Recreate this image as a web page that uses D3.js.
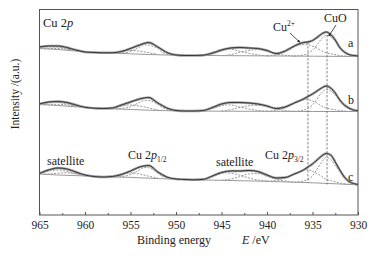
<!DOCTYPE html>
<html><head><meta charset="utf-8">
<script src="https://cdn.jsdelivr.net/npm/d3@7"></script>
<style>
body{margin:0;background:#fff}
text{font-family:"Liberation Serif","Times New Roman",serif;fill:#222}
</style>
</head><body>
<svg id="chart" width="376" height="256"></svg>
<script>
// ---- data (binding energy in eV, intensity in arbitrary units) ----
const energies = [965,964,963,962,961,960,959,958,957,956,955,954,953,952,951,950,949,948,947,946,945,944,943,942,941,940,939,938,937,936,
                  935.5,935,934.5,934,933.5,933,932.5,932,931.5,931,930.5,930];
const envA = [168,169,169,167.5,165,163,162.5,162.2,162.2,163.5,166.5,170,172.5,168,162.5,160,159.5,159.5,159.8,162,165,167,167.5,167,166.5,164.5,161.5,164,169,172.5,
              173,174.5,177.5,181,183,180.5,175,167.5,163,160.5,159.5,159];
const envB = [111,113,113.5,112.5,110,107.7,106.8,106.5,107,110,113,116,117.5,112,107,104.5,104,104,104.5,107.5,111,112.5,112.5,112,111,109,106.5,108,112,116,
              118.5,121,124,127,129,127,122,115,110,107,105,104.2];
const envC = [41.5,45,47,46,43,40,38.5,38,38.5,40.5,44,48,49.5,43,38,36,35.5,35.2,35.7,39,42.5,44,44,44.5,43.5,40,37,37.5,41,45,
              48,51,55,59,61.5,60,53,45,38,33.5,31.5,30.5];

const baseE = [965,963,961,959,957,955,953,951,949,945,940,935,930];
const baseA = [166.5,165.5,164,162.7,162,161.2,160.5,160,159.7,159.4,159.1,158.8,158.5];
const baseB = [110.5,109.5,108.2,107,106.2,105.5,104.8,104.3,104,103.8,103.7,103.5,103.5];
const baseC = [41,40,39.4,38.7,38.1,37.6,36.8,36.1,35.4,34.7,33.7,32.2,30.2];

// fitted components: heights above background
const cuoE = [937,936,935.5,935,934.5,934,933.5,933,932.5,932,931.5,931,930.5,930];
const cuoA = [0,1.2,3,6,11.5,17.5,21,19.5,15,8,4,2,0.8,0];
const cuoB = [0,1.3,3.2,6.5,12.5,18.5,22,20.5,16,10.5,5.5,2.5,0.8,0];
const cuoC = [0,1.5,3.5,7,14,21,26,24,18,12.5,6,2.5,1,0];

const cu2E = [940,939,938.5,938,937.5,937,936.5,936,935.5,935,934.5,934,933.5,933,932,931];
const cu2A = [0,1,2.5,4,6.5,9,11,11.5,11.5,10,8,5.5,3.3,2.5,1,0];
const cu2B = [0,1,2.5,4,6,8,10,11.5,11.8,10.5,8.5,5.5,3.5,2.5,1,0];
const cu2C = [0,1,2.5,4,6,8.5,10.5,12,13,11.5,9.5,7,4,3,1,0];

const satAE = [947.5,947,946,945,944.5,944,943,942,941,940];
const satAA = [0,0.3,1.5,4.5,6,6.5,4.5,2.5,1,0];
const satAB = [0,0.5,2.5,5.5,6.3,6.3,4.3,2.3,0.8,0];
const satAC = [0,0.5,3,7,7.5,7.3,5.5,3,1.2,0.3];

const satBE = [945,944,943,942,941,940,939,938,937];
const satBA = [0,1,3.5,5.3,6.3,5,2,0.8,0];
const satBB = [0,1.5,3.8,5.5,6,5,2.5,0.8,0];
const satBC = [0,1.5,4,7,7.5,5,2.5,0.8,0];

const p12E = [957,956,955,954.5,954,953.5,953,952.5,952,951.5,951,950.5];
const p12A = [0,0.5,2.3,4.5,7,9.5,9.5,8,6.5,2.5,1,0];
const p12B = [0,0.8,2.8,5,7.5,9.5,9.8,8.5,6,3,1.2,0];
const p12C = [0,0.6,3,5.5,8,10.5,10.5,8.5,5.5,2.5,1,0];

const p12sE = [958,957,956,955,954,953,952];
const p12sA = [0,0.5,1.8,3.3,3,1.8,0.3];
const p12sB = [0,1,3,4.5,3.8,2.3,0.5];
const p12sC = [0,0.8,2.8,4.5,3.8,2,0.5];

const s0E = [965,964,963,962,961,960,959];
const s0A = [1,2.2,2.5,1.7,0.6,0,0];
const s0B = [1.2,2.3,3,2.5,1.2,0.3,0];
const s0C = [1.5,3.5,5,4,2,0.5,0];

const s1E = [964.5,964,963,962,961,960,959];
const s1A = [0,0.5,1,1,0.4,0,0];
const s1B = [0,0.6,1.2,1.3,0.6,0,0];
const s1C = [0,0.5,1.8,2.5,1.8,0.6,0];

const xTicks = [965,960,955,950,945,940,935,930];
const xMinor = [962.5,957.5,952.5,947.5,942.5,937.5,932.5];
const spectrumNames = ["a","b","c"];
const markerLines = [935.5,933.4];

// ---- scales ----
const svg = d3.select("#chart");
const x = d3.scaleLinear().domain([965,930]).range([39.5,358]);
const y = d3.scaleLinear().domain([0,206]).range([215,9]);

const spectra = [
  {env: envA, base: baseA, idx: 0},
  {env: envB, base: baseB, idx: 1},
  {env: envC, base: baseC, idx: 2}
];
const comps = [
  [cuoE,[cuoA,cuoB,cuoC]],[cu2E,[cu2A,cu2B,cu2C]],
  [satAE,[satAA,satAB,satAC]],[satBE,[satBA,satBB,satBC]],
  [p12E,[p12A,p12B,p12C]],[p12sE,[p12sA,p12sB,p12sC]],
  [s0E,[s0A,s0B,s0C]],[s1E,[s1A,s1B,s1C]]
];

const line = d3.line().x(d=>x(d[0])).y(d=>y(d[1])).curve(d3.curveMonotoneX);
const sortPts = pts => pts.slice().sort((p,q)=>q[0]-p[0]);

const g = svg.append("g");
spectra.forEach(s=>{
  const bg = d3.scaleLinear().domain(baseE).range(s.base);
  comps.forEach(([E,hs])=>{
    const pts = sortPts(E.map((e,i)=>[e, bg(e)+hs[s.idx][i]]));
    g.append("path").attr("d",line(pts)).attr("fill","none")
      .attr("stroke","#6a6a6a").attr("stroke-width",0.7).attr("stroke-dasharray","2,1.4");
  });
  g.append("path").attr("d",line(baseE.map((e,i)=>[e,s.base[i]]))).attr("fill","none")
    .attr("stroke","#9a9a9a").attr("stroke-width",1);
  const envPts = energies.map((e,i)=>[e,s.env[i]]);
  g.append("path").attr("d",line(envPts)).attr("fill","none")
    .attr("stroke","#a0a0a0").attr("stroke-width",2.4);
  g.append("path").attr("d",line(envPts)).attr("fill","none")
    .attr("stroke","#2a2a2a").attr("stroke-width",0.9);
});

// vertical dashed reference lines
svg.append("line").attr("x1",x(markerLines[0])).attr("x2",x(markerLines[0]))
  .attr("y1",y(173)).attr("y2",y(32)).attr("stroke","#555").attr("stroke-width",0.7).attr("stroke-dasharray","2.5,1.5");
svg.append("line").attr("x1",x(markerLines[1])).attr("x2",x(markerLines[1]))
  .attr("y1",y(180)).attr("y2",y(30.5)).attr("stroke","#555").attr("stroke-width",0.7).attr("stroke-dasharray","2.5,1.5");

// frame
svg.append("rect").attr("x",39.5).attr("y",9.5).attr("width",318.5).attr("height",205.5)
  .attr("fill","none").attr("stroke","#555").attr("stroke-width",1);

// axes
const ax = svg.append("g").attr("transform","translate(0,215)")
  .call(d3.axisBottom(x).tickValues(xTicks).tickSize(-3).tickPadding(6).tickFormat(d3.format("d")));
ax.select(".domain").remove();
ax.selectAll("text").attr("font-size",11.5).attr("font-family","Liberation Serif").attr("fill","#222");
ax.selectAll("line").attr("stroke","#555");
const axm = svg.append("g").attr("transform","translate(0,215)")
  .call(d3.axisBottom(x).tickValues(xMinor).tickSize(-2).tickFormat(""));
axm.select(".domain").remove();
axm.selectAll("line").attr("stroke","#555");

// axis titles
const xt = svg.append("text").attr("x",137).attr("y",244).attr("font-size",12);
xt.append("tspan").text("Binding energy");
xt.append("tspan").attr("x",242).attr("font-style","italic").text("E");
xt.append("tspan").text(" /eV");
svg.append("text").attr("transform","translate(19,94) rotate(-90)").attr("text-anchor","middle")
  .attr("font-size",11.5).text("Intensity /(a.u.)");

// annotations
const t1 = svg.append("text").attr("x",43).attr("y",27).attr("font-size",12.5);
t1.append("tspan").text("Cu 2");
t1.append("tspan").attr("font-style","italic").text("p");

spectrumNames.forEach((n,i)=>{
  const yy = [47,104,181][i];
  svg.append("text").attr("x",348).attr("y",yy).attr("font-size",12).text(n);
});

const tcu = svg.append("text").attr("x",273).attr("y",31).attr("font-size",12);
tcu.append("tspan").text("Cu");
tcu.append("tspan").attr("font-size",7.5).attr("dy",-5).text("2+");
svg.append("text").attr("x",324).attr("y",22).attr("font-size",12).text("CuO");

svg.append("defs").append("marker").attr("id","ah").attr("viewBox","0 0 6 6").attr("refX",5).attr("refY",3)
  .attr("markerWidth",4).attr("markerHeight",4).attr("orient","auto")
  .append("path").attr("d","M0,0 L6,3 L0,6 Z").attr("fill","#222");
svg.append("line").attr("x1",290).attr("y1",33).attr("x2",x(936.4)).attr("y2",y(172.8))
  .attr("stroke","#222").attr("stroke-width",0.8).attr("marker-end","url(#ah)");
svg.append("line").attr("x1",336).attr("y1",25).attr("x2",x(933.2)).attr("y2",y(179))
  .attr("stroke","#222").attr("stroke-width",0.8).attr("marker-end","url(#ah)");

const sat1 = svg.append("text").attr("x",47).attr("y",165).attr("font-size",12).text("satellite");
const sat2 = svg.append("text").attr("x",216).attr("y",166).attr("font-size",12).text("satellite");
const p1 = svg.append("text").attr("x",128).attr("y",159).attr("font-size",12);
p1.append("tspan").text("Cu 2");
p1.append("tspan").attr("font-style","italic").text("p");
p1.append("tspan").attr("font-size",7.5).attr("dy",2.5).text("1/2");
const p3 = svg.append("text").attr("x",265).attr("y",159).attr("font-size",12);
p3.append("tspan").text("Cu 2");
p3.append("tspan").attr("font-style","italic").text("p");
p3.append("tspan").attr("font-size",7.5).attr("dy",2.5).text("3/2");
</script>
</body></html>
